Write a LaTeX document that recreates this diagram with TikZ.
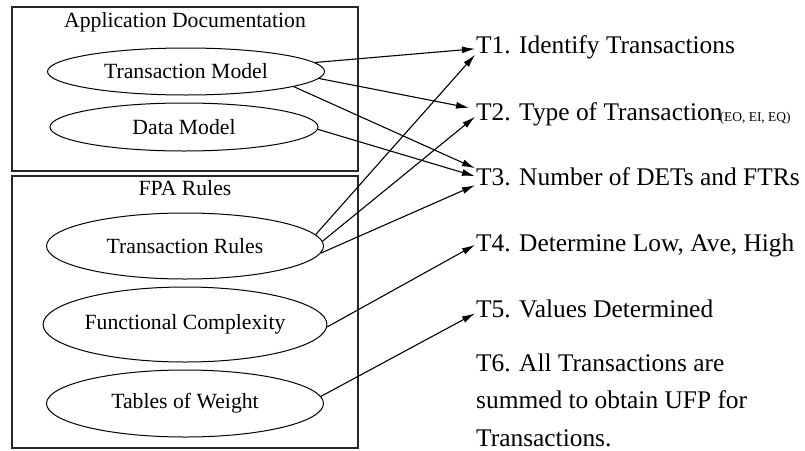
\documentclass[tikz,border=0pt]{standalone}
\usepackage{fontspec}
\setmainfont{Liberation Serif}
\usetikzlibrary{shapes.geometric,arrows.meta}
\tikzset{%
  frame/.style = {draw, line width=1.5pt, black!85},
  heading/.style = {anchor=base, inner sep=0pt, font=\fontsize{21.7}{26}\selectfont},
  model/.style = {shape=ellipse, draw, line width=1pt, inner sep=0pt,
    minimum width=277pt, font=\fontsize{21.7}{26}\selectfont},
  task/.style = {anchor=base west, inner sep=1pt, align=left,
    font=\fontsize{25.4}{37.2}\selectfont},
  feeds/.style = {draw, line width=1.1pt, -{Latex[length=13pt,width=7pt]}}
}

\begin{document}
\begin{tikzpicture}[x=1pt,y=-1pt]
	\useasboundingbox (0,0) rectangle (805,450);
	% the two source groups
	\draw[frame] (12,7) rectangle (358,171);
	\draw[frame] (12,176) rectangle (358,448);
	\node[heading] (appdoc) at (185,27) {Application Documentation};
	\node[heading] (fparules) at (185,195) {FPA Rules};
	\node[model, minimum height=47pt] (tm) at (186,71.5) {Transaction Model};
	\node[model, minimum height=48pt, minimum width=268pt] (dm) at (184,127) {Data Model};
	\node[model, minimum height=66pt] (tr) at (185,246) {Transaction Rules};
	\node[model, minimum height=75pt] (fc) at (185,324.5) {Functional Complexity};
	\node[model, minimum height=67pt] (tw) at (185,403.5) {Tables of Weight};
	% the steps
	\node[task] (t1) at (475,53) {T1. Identify Transactions};
	\node[task] (t2) at (475,120) {T2. Type of Transaction\raisebox{-1pt}{\fontsize{13.5}{16}\selectfont\kern-3pt(EO, EI, EQ)}};
	\node[task] (t3) at (475,185) {T3. Number of DETs and FTRs};
	\node[task] (t4) at (475,251) {T4. Determine Low, Ave, High};
	\node[task] (t5) at (475,317) {T5. Values Determined};
	\node[task] (t6) at (475,446) {T6. All Transactions are\\summed to obtain UFP for\\Transactions.};
	% connectors
	\draw[feeds] (tm.4) -- ([yshift=-2pt]t1.west);
	\draw[feeds] (tm.-3) -- ([xshift=-6pt,yshift=6pt]t2.west);
	\draw[feeds] (tm.-8) -- ([yshift=8pt]t3.west);
	\draw[feeds] (dm.-1) -- (t3.west);
	\draw[feeds] (tr.5) -- ([yshift=-8pt]t1.west);
	\draw[feeds] (tr.2) -- ([yshift=-3pt]t2.west);
	\draw[feeds] (tr.-3) -- ([yshift=-9pt]t3.west);
	\draw[feeds] (fc.-1) -- (t4.west);
	\draw[feeds] (tw.3) -- ([yshift=-5pt]t5.west);
\end{tikzpicture}
\end{document}
